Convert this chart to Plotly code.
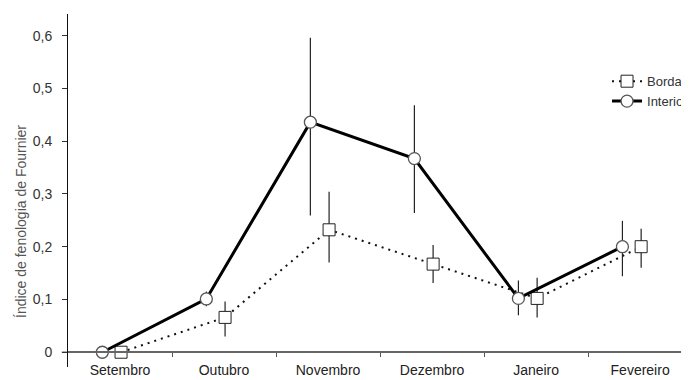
import plotly.graph_objects as go

months = ["Setembro", "Outubro", "Novembro", "Dezembro", "Janeiro", "Fevereiro"]
month_pos = [0, 1, 2, 3, 4, 5]

interior_x_offset = -0.17
borda_x_offset = 0.01

interior = [0.0, 0.101, 0.436, 0.367, 0.102, 0.200]
interior_err_plus = [0.0, 0.014, 0.160, 0.101, 0.034, 0.049]
interior_err_minus = [0.0, 0.014, 0.177, 0.103, 0.032, 0.056]

borda = [0.0, 0.066, 0.232, 0.167, 0.102, 0.200]
borda_err_plus = [0.0, 0.030, 0.072, 0.036, 0.039, 0.034]
borda_err_minus = [0.0, 0.036, 0.062, 0.036, 0.036, 0.040]

ytick_vals = [0, 0.1, 0.2, 0.3, 0.4, 0.5, 0.6]
ytick_text = ["0", "0,1", "0,2", "0,3", "0,4", "0,5", "0,6"]

FONT = "Liberation Sans, Arial, sans-serif"

fig = go.Figure()

fig.add_trace(go.Scatter(
    x=[p + borda_x_offset for p in month_pos], y=borda,
    name="Borda", mode="lines+markers",
    line=dict(color="#111", width=2, dash="2px,5px"),
    marker=dict(symbol="square", size=12, color="white",
                line=dict(color="#222", width=1)),
    error_y=dict(type="data", symmetric=False, array=borda_err_plus,
                 arrayminus=borda_err_minus, width=0, thickness=1.2, color="#222"),
))

fig.add_trace(go.Scatter(
    x=[p + interior_x_offset for p in month_pos], y=interior,
    name="Interior", mode="lines+markers",
    line=dict(color="#000", width=3),
    marker=dict(symbol="circle", size=12, color="white",
                line=dict(color="#555", width=1.3)),
    error_y=dict(type="data", symmetric=False, array=interior_err_plus,
                 arrayminus=interior_err_minus, width=0, thickness=1.2, color="#222"),
))

# page body has an 8px default margin: figure is sized/margined to compensate
fig.update_layout(
    width=681, height=372,
    margin=dict(l=60, r=0, t=6, b=13, pad=0, autoexpand=False),
    paper_bgcolor="white", plot_bgcolor="white",
    font=dict(family=FONT, size=14, color="#333"),
    showlegend=True,
    legend=dict(x=0.868, y=0.852, xanchor="left", yanchor="top",
                bgcolor="rgba(0,0,0,0)", font=dict(size=13, color="#333"),
                traceorder="normal"),
    xaxis=dict(
        range=[-0.5, 5.47], tickmode="array", tickvals=month_pos, ticktext=months,
        ticks="", showgrid=False, zeroline=False,
        showline=True, linecolor="#666", linewidth=1.5,
        anchor="free", position=0.042, ticklabelstandoff=5,
        tickfont=dict(size=14, color="#222"),
        minor=dict(tickmode="array", tickvals=[0.5, 1.5, 2.5, 3.5, 4.5, 5.5],
                   ticks="outside", ticklen=4, tickcolor="#555", tickwidth=1, showgrid=False),
    ),
    yaxis=dict(
        range=[-0.028, 0.641], tickmode="array", tickvals=ytick_vals, ticktext=ytick_text,
        ticks="outside", ticklen=5, tickcolor="#333", tickwidth=1,
        showgrid=False, zeroline=False, ticklabelstandoff=7,
        showline=True, linecolor="#111", linewidth=1,
        tickfont=dict(size=14, color="#333"),
    ),
    shapes=[dict(type="line", xref="paper", yref="y", x0=-0.01, x1=0, y0=0, y1=0,
                 line=dict(color="#666", width=1.5), layer="below")],
    annotations=[dict(
        text="Índice de fenologia de Fournier", xref="paper", yref="paper",
        x=-0.0757, y=0.4136, xanchor="center", yanchor="middle", textangle=-90,
        showarrow=False, font=dict(size=14, color="#555"),
    )],
)

fig.write_html("out.html")
